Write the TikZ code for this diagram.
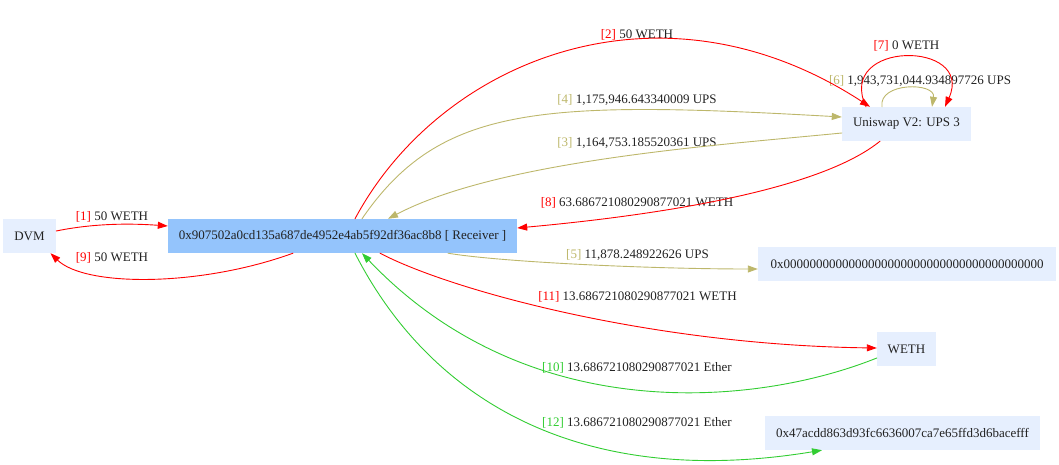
\documentclass[tikz,border=0pt]{standalone}
\usepackage{fontspec}
\setmainfont{Liberation Serif}
\usetikzlibrary{arrows.meta}
\definecolor{wethred}{RGB}{255,0,0}
\definecolor{upskhaki}{RGB}{189,183,107}
\definecolor{ethgreen}{RGB}{50,205,50}
\definecolor{acctfill}{RGB}{230,239,254}
\definecolor{rcvfill}{RGB}{148,196,252}
\definecolor{txt}{RGB}{34,34,34}
\begin{document}
\begin{tikzpicture}[x=1pt,y=-1pt,>={Triangle[length=10pt,width=7pt]}, font=\fontsize{13}{15}\selectfont, line join=round, line cap=round,
	acct/.style={fill=acctfill, text=txt, minimum height=34pt, inner sep=0pt},
	lbl/.style={text=txt, inner sep=0pt},
	tx/.style={->, line width=0.9pt}]
		\def\ix#1#2{\textcolor{#1}{[#2]}\ } % so nhan thu tu
		\useasboundingbox (0,0) rectangle (1059,465);
		% cac tai khoan
		\node[acct, minimum width=53pt] (dvm) at (29.5,236) {DVM};
		\node[acct, fill=rcvfill, minimum width=349pt] (rcv) at (342.5,236) {0x907502a0cd135a687de4952e4ab5f92df36ac8b8 [ Receiver ]};
		\node[acct, minimum width=129pt] (uni) at (906.5,124) {Uniswap V2: UPS 3};
		\node[acct, minimum width=298pt] (zero) at (907,264) {0x0000000000000000000000000000000000000000};
		\node[acct, minimum width=59pt] (weth) at (906.5,349) {WETH};
		\node[acct, minimum width=275pt] (coin) at (902.5,433) {0x47acdd863d93fc6636007ca7e65ffd3d6bacefff};
		% nhan giao dich
		\node[lbl] (l1) at (112,217) {\ix{wethred}{1}50 WETH};
		\node[lbl] (l9) at (112,258) {\ix{wethred}{9}50 WETH};
		\node[lbl] (l2) at (637,35) {\ix{wethred}{2}50 WETH};
		\node[lbl] (l4) at (637,100) {\ix{upskhaki}{4}1,175,946.643340009 UPS};
		\node[lbl] (l3) at (637,143) {\ix{upskhaki}{3}1,164,753.185520361 UPS};
		\node[lbl] (l8) at (637,203) {\ix{wethred}{8}63.686721080290877021 WETH};
		\node[lbl] (l5) at (637.5,255) {\ix{upskhaki}{5}11,878.248922626 UPS};
		\node[lbl] (l11) at (637.5,297) {\ix{wethred}{11}13.686721080290877021 WETH};
		\node[lbl] (l10) at (637,368) {\ix{ethgreen}{10}13.686721080290877021 Ether};
		\node[lbl] (l12) at (637,423) {\ix{ethgreen}{12}13.686721080290877021 Ether};
		\node[lbl] (l6) at (920,81) {\ix{upskhaki}{6}1,943,731,044.934897726 UPS};
		\node[lbl] (l7) at (906.5,46) {\ix{wethred}{7}0 WETH};
		% cac canh
		\draw[tx, wethred] ([yshift=5pt]dvm.east) .. controls (100,222) and (140,224) .. ([yshift=10pt]rcv.west);
		\draw[tx, wethred] ([xshift=-49.5pt]rcv.south) .. controls (200,287) and (85,287) .. ([xshift=21pt]dvm.south);
		\draw[tx, wethred] ([xshift=12.5pt]rcv.north) .. controls (440,60) and (660,-30) .. ([xshift=-36.5pt]uni.north);
		\draw[tx, upskhaki] ([xshift=19.5pt]rcv.north) .. controls (440,105) and (540,100) .. ([yshift=7pt]uni.west);
		\draw[tx, upskhaki] ([yshift=-9pt]uni.west) .. controls (720,145) and (500,160) .. ([xshift=45.5pt]rcv.north);
		\draw[tx, wethred] ([xshift=-26.5pt]uni.south) .. controls (820,190) and (660,215) .. ([yshift=8pt]rcv.east);
		\draw[tx, upskhaki] ([xshift=105.5pt]rcv.south) .. controls (500,262) and (650,269) .. ([yshift=-5pt]zero.west);
		\draw[tx, wethred] ([xshift=37.5pt]rcv.south) .. controls (450,290) and (650,345) .. ([yshift=1pt]weth.west);
		\draw[tx, ethgreen] ([yshift=-9pt]weth.west) .. controls (760,405) and (530,430) .. ([xshift=19.5pt]rcv.south);
		\draw[tx, ethgreen] ([xshift=12.5pt]rcv.south) .. controls (430,400) and (580,490) .. ([xshift=-80.5pt]coin.south);
		\draw[tx, upskhaki] ([xshift=-24.5pt]uni.north) .. controls (878,82) and (936,82) .. ([xshift=25.5pt]uni.north);
		\draw[tx, wethred] ([xshift=-40.5pt]uni.north) .. controls (835,40) and (975,40) .. ([xshift=38.5pt]uni.north);
\end{tikzpicture}
\end{document}
